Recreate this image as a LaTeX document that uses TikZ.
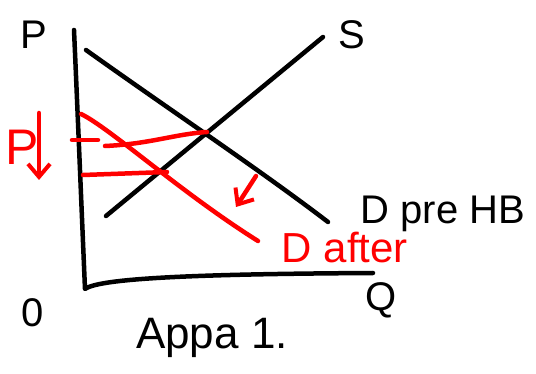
\documentclass[tikz,border=0pt]{standalone}
\usepackage{fontspec}
\setmainfont{Liberation Sans}
\usetikzlibrary{arrows.meta}

\begin{document}
\begin{tikzpicture}[x=1pt, y=-1pt,
    pen/.style={line width=4.5pt, line cap=round, line join=round},
    redpen/.style={pen, red},
    barb/.style={-{Straight Barb[length=13pt, width=22pt, line width=4pt]}},
    lbl/.style={inner sep=0pt, font=\fontsize{#1}{#1}\selectfont},
    lbl/.default=40]
    \useasboundingbox (0,0) rectangle (536,374);

    % Axes
    \coordinate (Ptop) at (74,30);
    \coordinate (Orig) at (85,289);
    \coordinate (Qend) at (373,273);
    \draw[pen] (Ptop) .. controls (78,120) and (82,220) .. (Orig)
        .. controls (100,278) and (200,274) .. (Qend);
    \node[lbl] (plabel) at (34,35) {P};
    \node[lbl] (olabel) at (33,313) {0};
    \node[lbl] (qlabel) at (381,300) {Q};
    \node[lbl=44] (title) at (212,338) {Appa 1.};

    % Supply and demand before
    \coordinate (Stop) at (323,37);
    \coordinate (Sbot) at (106,216);
    \coordinate (Dtop) at (86,50);
    \coordinate (Dbot) at (328,222);
    \draw[pen] (Sbot) -- (Stop);
    \draw[pen] (Dtop) .. controls (170,110) and (260,170) .. (Dbot);
    \node[lbl] (slabel) at (352,35) {S};
    \node[lbl] (dprelabel) at (443,214) {D pre HB};

    % Demand after
    \coordinate (Atop) at (81,114);
    \coordinate (Abot) at (258,241);
    \draw[redpen] (Atop) .. controls (110,128) and (180,192) .. (Abot);
    \node[lbl=42, red] (dafterlabel) at (345,248) {D after};

    % Price lines
    \coordinate (E0) at (207,132);
    \coordinate (E1) at (167,172);
    \draw[redpen] (72,140) -- (98,140);
    \draw[redpen] (105,146) .. controls (150,144) and (175,134) .. (E0);
    \draw[redpen] (83,175) -- (E1);

    % Shift and price fall
    \coordinate (shiftfrom) at (256,176);
    \coordinate (shiftto) at (236,207);
    \draw[redpen, barb] (shiftfrom) -- (shiftto);
    \node[lbl=50, red] (pdown) at (22,147) {P};
    \coordinate (pfrom) at (39,113);
    \coordinate (pto) at (39,180);
    \draw[redpen, barb] (pfrom) -- (pto);
\end{tikzpicture}
\end{document}
